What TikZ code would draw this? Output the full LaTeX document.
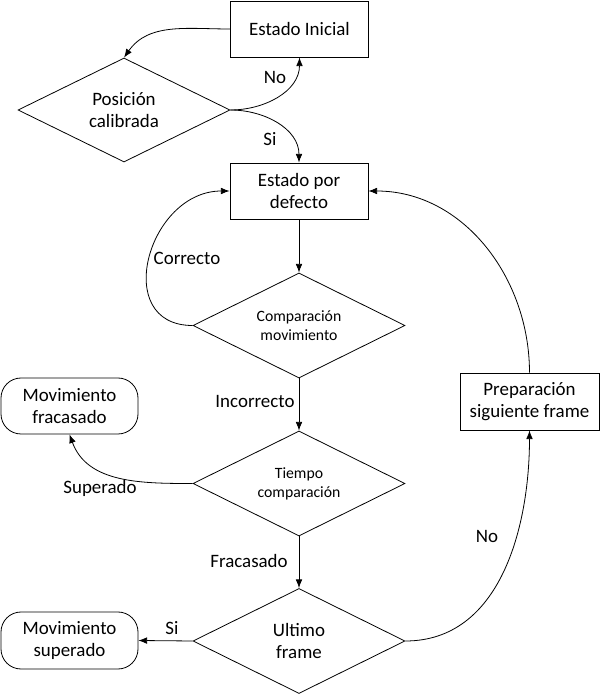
\documentclass[tikz,border=0pt]{standalone}
\usepackage{fontspec}
\setmainfont{Carlito}
\usetikzlibrary{shapes.geometric,arrows.meta}
\begin{document}
\begin{tikzpicture}[x=0.75pt,y=0.75pt,
  every node/.style={font=\fontsize{14.2}{16.5}\selectfont, inner sep=0pt},
  box/.style={draw, line width=0.6pt, align=center, minimum width=138*0.75pt, minimum height=56*0.75pt},
  rbox/.style={box, rounded corners=15pt},
  decision/.style={draw, diamond, line width=0.6pt, align=center, aspect=2, minimum width=212*0.75pt, minimum height=105*0.75pt},
  small/.style={font=\fontsize{11.8}{14.3}\selectfont},
  conn/.style={line width=0.6pt, -{Latex[length=6.5pt,width=5pt]}},
  lbl/.style={}]
\useasboundingbox (0,0) rectangle (600,694);
\node[box] (ei) at (299.5,665) {Estado Inicial};
\node[decision, minimum height=104*0.75pt] (pc) at (124,584) {Posición\\calibrada};
\node[box] (epd) at (299,503) {Estado por\\defecto};
\node[decision, small] (cm) at (299,368.5) {Comparación\\movimiento};
\node[rbox, minimum width=137*0.75pt] (mf) at (69.5,288) {Movimiento\\fracasado};
\node[decision, small] (tc) at (299,210.5) {Tiempo\\comparación};
\node[decision] (uf) at (299,53) {Ultimo\\frame};
\node[rbox, minimum width=137*0.75pt, minimum height=57*0.75pt] (ms) at (69.5,53.5) {Movimiento\\superado};
\node[box, minimum width=139*0.75pt, minimum height=57*0.75pt] (psf) at (529.5,292.5) {Preparación\\siguiente frame};

\draw[conn] (ei.west) to[out=180,in=55] (pc.north);
\draw[conn] (pc.east) to[out=0,in=-90] (ei.south);
\draw[conn] (pc.east) to[out=0,in=90] (epd.north);
\draw[conn] (epd.south) -- (cm.north);
\draw[conn] (cm.west) to[out=180,in=180,looseness=1.5] (epd.west);
\draw[conn] (cm.south) -- (tc.north);
\draw[conn] (tc.west) to[out=180,in=-70] (mf.south);
\draw[conn] (tc.south) -- (uf.north);
\draw[conn] (uf.west) -- (ms.east);
\draw[conn] (uf.east) to[out=0,in=-90] (psf.south);
\draw[conn] (psf.north) to[out=90,in=0] (epd.east);

\node[lbl] (l1) at (275,617) {No};
\node[lbl] (l2) at (270,555) {Si};
\node[lbl] (l3) at (187,436) {Correcto};
\node[lbl] (l4) at (255,293) {Incorrecto};
\node[lbl] (l5) at (100,206) {Superado};
\node[lbl] (l6) at (249,133) {Fracasado};
\node[lbl] (l7) at (172,66) {Si};
\node[lbl] (l8) at (487,158) {No};
\end{tikzpicture}
\end{document}
